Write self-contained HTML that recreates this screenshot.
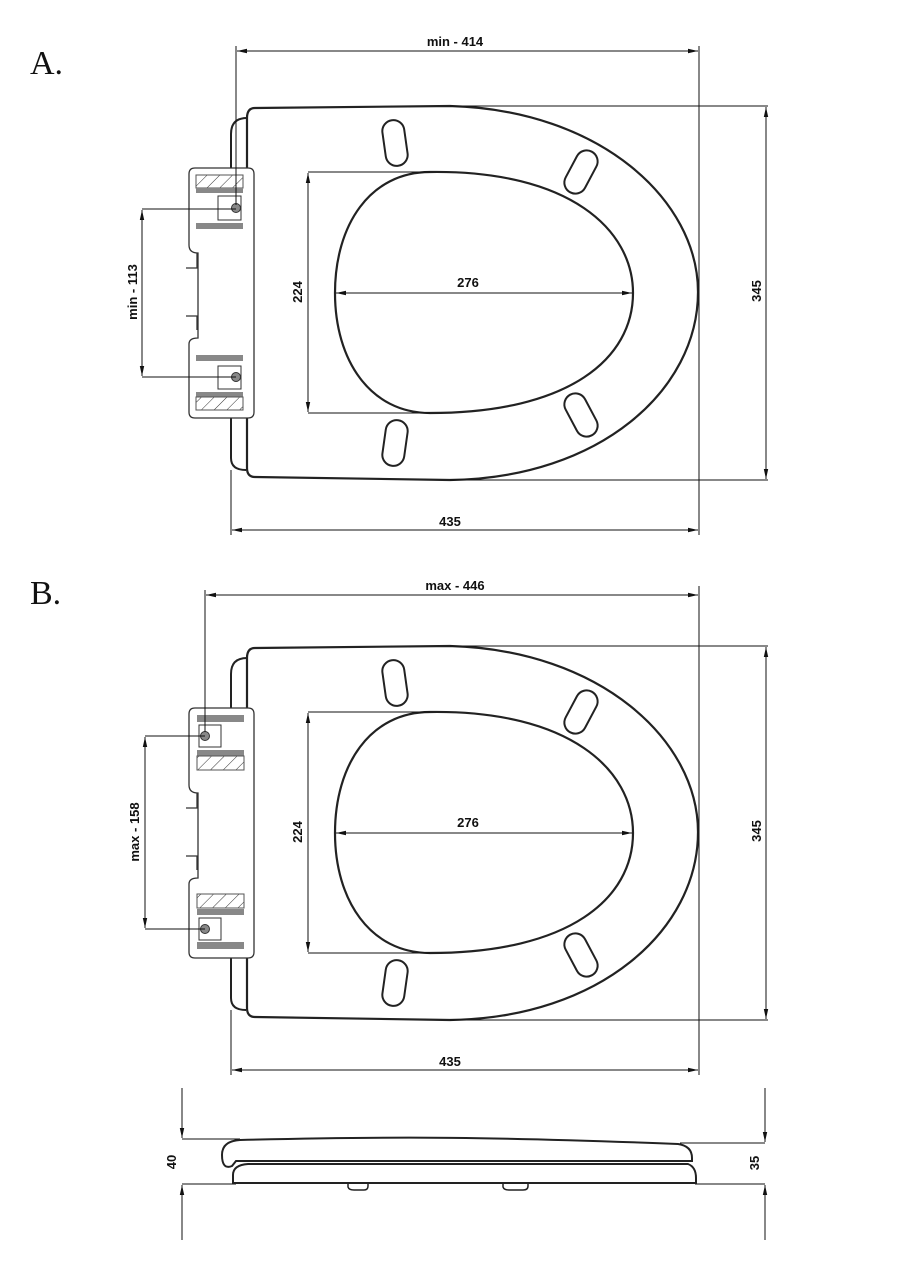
<!DOCTYPE html>
<html><head><meta charset="utf-8"><style>
html,body{margin:0;padding:0;background:#fff;}
svg{display:block;}
.t{font-family:"Liberation Sans",sans-serif;font-weight:bold;font-size:13px;fill:#111;}
.L{font-family:"Liberation Serif",serif;font-size:34px;fill:#111;}
</style></head><body>
<svg width="900" height="1273" viewBox="0 0 900 1273" xmlns="http://www.w3.org/2000/svg">
<defs>
<marker id="ar" viewBox="0 0 10 6" refX="10" refY="3" markerWidth="10" markerHeight="6" orient="auto-start-reverse" markerUnits="userSpaceOnUse">
<path d="M0,0.8 L10,3 L0,5.2 Z" fill="#111"/></marker>
<pattern id="h" patternUnits="userSpaceOnUse" width="9" height="9" patternTransform="rotate(45)">
<rect width="9" height="9" fill="#fff"/><line x1="0" y1="0" x2="0" y2="9" stroke="#333" stroke-width="1"/></pattern>
<g id="seat">
  <path d="M247,118 Q231,118 231,134 L231,458 Q231,470 246,470" fill="none" stroke="#222" stroke-width="2"/>
  <path d="M255,108 L450,106 C600,110 698,200 698,292 C698,390 600,478 450,480 L255,477 Q247,477 247,468 L247,118 Q247,108 255,108 Z" fill="#fff" stroke="#222" stroke-width="2.2"/>
  <path d="M430,172 C570,170 633,230 633,293 C633,358 570,413 430,413 C370,413 335,360 335,293 C335,225 370,172 430,172 Z" fill="none" stroke="#222" stroke-width="2.2"/>
  <rect x="384" y="120" width="22" height="46" rx="11" transform="rotate(-8 395 143)" fill="none" stroke="#222" stroke-width="2"/>
  <rect x="570" y="149" width="22" height="46" rx="11" transform="rotate(28 581 172)" fill="none" stroke="#222" stroke-width="2"/>
  <rect x="570" y="392" width="22" height="46" rx="11" transform="rotate(-28 581 415)" fill="none" stroke="#222" stroke-width="2"/>
  <rect x="384" y="420" width="22" height="46" rx="11" transform="rotate(8 395 443)" fill="none" stroke="#222" stroke-width="2"/>
  <path d="M195,168 L248,168 Q254,168 254,174 L254,412 Q254,418 248,418 L195,418 Q189,418 189,412 L189,344 Q189,338 198,338 L198,253 Q189,253 189,245 L189,174 Q189,168 195,168 Z" fill="#fff" stroke="#333" stroke-width="1.3"/>
  <path d="M197,253 L197,268 L186,268 M186,316 L197,316 L197,330" fill="none" stroke="#333" stroke-width="1.3"/>
  <line x1="308" y1="172" x2="430" y2="172" stroke="#111" stroke-width="1"/>
  <line x1="308" y1="413" x2="430" y2="413" stroke="#111" stroke-width="1"/>
  <line x1="308" y1="173" x2="308" y2="412" stroke="#111" stroke-width="1" marker-start="url(#ar)" marker-end="url(#ar)"/>
  <text class="t" transform="translate(302,292) rotate(-90)" text-anchor="middle">224</text>
  <line x1="336" y1="293" x2="632" y2="293" stroke="#111" stroke-width="1" marker-start="url(#ar)" marker-end="url(#ar)"/>
  <text class="t" x="468" y="287" text-anchor="middle">276</text>
  <line x1="231" y1="470" x2="231" y2="535" stroke="#111" stroke-width="1"/>
  <line x1="699" y1="292" x2="699" y2="535" stroke="#111" stroke-width="1"/>
  <line x1="232" y1="530" x2="698" y2="530" stroke="#111" stroke-width="1" marker-start="url(#ar)" marker-end="url(#ar)"/>
  <text class="t" x="450" y="526" text-anchor="middle">435</text>
  <line x1="450" y1="106" x2="768" y2="106" stroke="#111" stroke-width="1"/>
  <line x1="450" y1="480" x2="768" y2="480" stroke="#111" stroke-width="1"/>
  <line x1="766" y1="107" x2="766" y2="479" stroke="#111" stroke-width="1" marker-start="url(#ar)" marker-end="url(#ar)"/>
  <text class="t" transform="translate(761,291) rotate(-90)" text-anchor="middle">345</text>
  <line x1="699" y1="46" x2="699" y2="292" stroke="#111" stroke-width="1"/>
</g>
</defs>

<text class="L" x="30" y="74">A.</text>
<text class="L" x="30" y="604">B.</text>

<use href="#seat"/>
<rect x="196" y="175" width="47" height="13" fill="url(#h)" stroke="#555" stroke-width="1"/>
<rect x="196" y="188" width="47" height="5" fill="#888"/>
<rect x="218" y="196" width="23" height="24" fill="#fff" stroke="#333" stroke-width="1"/>
<rect x="196" y="223" width="47" height="6" fill="#888"/>
<circle cx="236" cy="208" r="4.5" fill="#888" stroke="#333" stroke-width="1"/>
<rect x="196" y="355" width="47" height="6" fill="#888"/>
<rect x="218" y="366" width="23" height="23" fill="#fff" stroke="#333" stroke-width="1"/>
<rect x="196" y="392" width="47" height="5" fill="#888"/>
<rect x="196" y="397" width="47" height="13" fill="url(#h)" stroke="#555" stroke-width="1"/>
<circle cx="236" cy="377" r="4.5" fill="#888" stroke="#333" stroke-width="1"/>
<line x1="236" y1="46" x2="236" y2="205" stroke="#111" stroke-width="1"/>
<line x1="237" y1="51" x2="698" y2="51" stroke="#111" stroke-width="1" marker-start="url(#ar)" marker-end="url(#ar)"/>
<text class="t" x="455" y="46" text-anchor="middle">min - 414</text>
<line x1="142" y1="209" x2="236" y2="209" stroke="#111" stroke-width="1"/>
<line x1="142" y1="377" x2="236" y2="377" stroke="#111" stroke-width="1"/>
<line x1="142" y1="210" x2="142" y2="376" stroke="#111" stroke-width="1" marker-start="url(#ar)" marker-end="url(#ar)"/>
<text class="t" transform="translate(137,292) rotate(-90)" text-anchor="middle">min - 113</text>

<use href="#seat" transform="translate(0,540)"/>
<rect x="197" y="715" width="47" height="7" fill="#888"/>
<rect x="199" y="725" width="22" height="22" fill="#fff" stroke="#333" stroke-width="1"/>
<rect x="197" y="750" width="47" height="6" fill="#888"/>
<rect x="197" y="756" width="47" height="14" fill="url(#h)" stroke="#555" stroke-width="1"/>
<circle cx="205" cy="736" r="4.5" fill="#888" stroke="#333" stroke-width="1"/>
<rect x="197" y="894" width="47" height="14" fill="url(#h)" stroke="#555" stroke-width="1"/>
<rect x="197" y="909" width="47" height="6" fill="#888"/>
<rect x="199" y="918" width="22" height="22" fill="#fff" stroke="#333" stroke-width="1"/>
<rect x="197" y="942" width="47" height="7" fill="#888"/>
<circle cx="205" cy="929" r="4.5" fill="#888" stroke="#333" stroke-width="1"/>
<line x1="205" y1="590" x2="205" y2="732" stroke="#111" stroke-width="1"/>
<line x1="206" y1="595" x2="698" y2="595" stroke="#111" stroke-width="1" marker-start="url(#ar)" marker-end="url(#ar)"/>
<text class="t" x="455" y="590" text-anchor="middle">max - 446</text>
<line x1="145" y1="736" x2="205" y2="736" stroke="#111" stroke-width="1"/>
<line x1="145" y1="929" x2="205" y2="929" stroke="#111" stroke-width="1"/>
<line x1="145" y1="737" x2="145" y2="928" stroke="#111" stroke-width="1" marker-start="url(#ar)" marker-end="url(#ar)"/>
<text class="t" transform="translate(139,832) rotate(-90)" text-anchor="middle">max - 158</text>

<line x1="182" y1="1088" x2="182" y2="1138" stroke="#111" stroke-width="1" marker-end="url(#ar)"/>
<line x1="182" y1="1240" x2="182" y2="1185" stroke="#111" stroke-width="1" marker-end="url(#ar)"/>
<line x1="182" y1="1139" x2="240" y2="1139" stroke="#111" stroke-width="1"/>
<line x1="182" y1="1184" x2="236" y2="1184" stroke="#111" stroke-width="1"/>
<text class="t" transform="translate(176,1162) rotate(-90)" text-anchor="middle">40</text>
<line x1="765" y1="1088" x2="765" y2="1142" stroke="#111" stroke-width="1" marker-end="url(#ar)"/>
<line x1="765" y1="1240" x2="765" y2="1185" stroke="#111" stroke-width="1" marker-end="url(#ar)"/>
<line x1="680" y1="1143" x2="765" y2="1143" stroke="#111" stroke-width="1"/>
<line x1="695" y1="1184" x2="765" y2="1184" stroke="#111" stroke-width="1"/>
<text class="t" transform="translate(759,1163) rotate(-90)" text-anchor="middle">35</text>
<path d="M240,1140 C400,1136 500,1137 678,1144 Q692,1146 692,1158 L692,1161 L236,1161 L232,1166 Q222,1170 222,1155 Q222,1141 240,1140 Z" fill="#fff" stroke="#222" stroke-width="2"/>
<path d="M248,1164 L688,1164 Q696,1167 696,1178 L696,1183 L233,1183 L233,1175 Q233,1165 248,1164 Z" fill="#fff" stroke="#222" stroke-width="2"/>
<path d="M348,1184 L348,1187 Q349,1190 354,1190 L364,1190 Q368,1190 368,1186 L368,1184" fill="none" stroke="#222" stroke-width="1.5"/>
<path d="M503,1184 L503,1187 Q504,1190 509,1190 L523,1190 Q528,1190 528,1186 L528,1184" fill="none" stroke="#222" stroke-width="1.5"/>
</svg>
</body></html>
